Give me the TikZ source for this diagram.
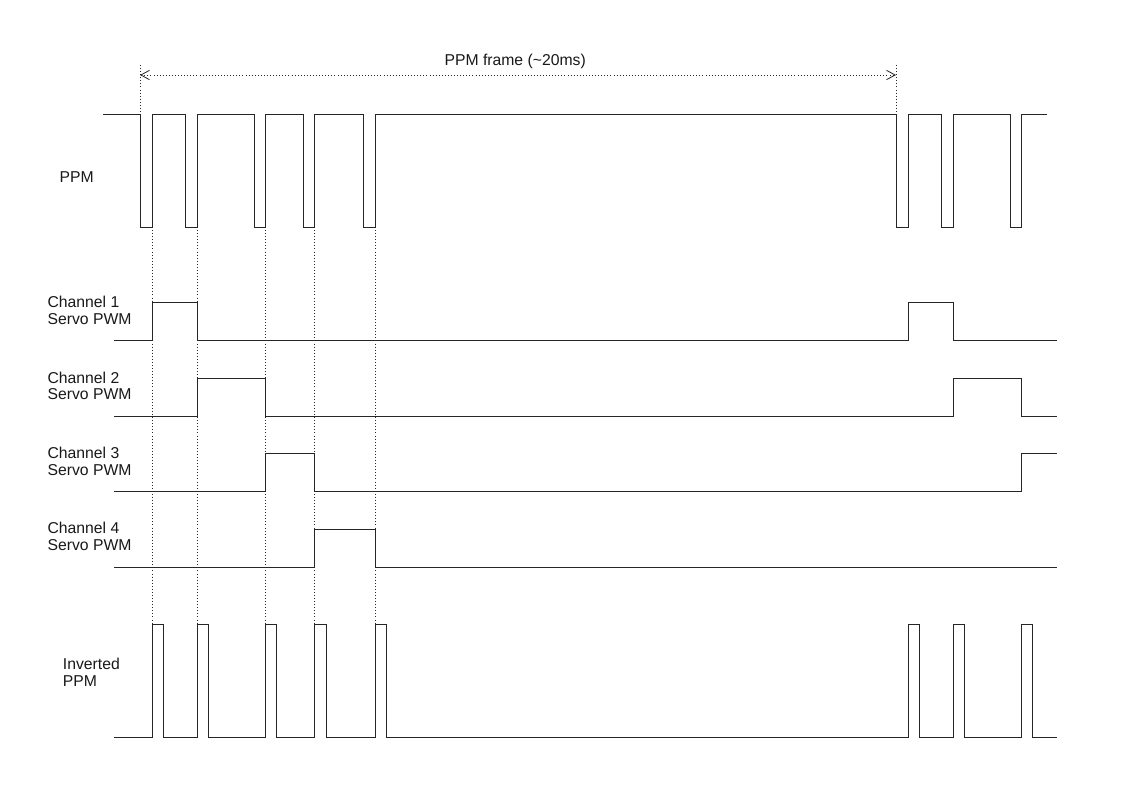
\documentclass[tikz,border=0pt]{standalone}
\usepackage{fontspec}
\setmainfont{Liberation Sans}
\usetikzlibrary{arrows.meta}
\begin{document}
\begin{tikzpicture}[x=0.75pt,y=-0.75pt,
  sig/.style={line width=0.75pt,draw=black!85,line join=miter},
  guide/.style={line width=0.7pt,draw=black!85,dash pattern=on 0.7pt off 1.6pt},
  tipb/.tip={Straight Barb[length=6.5pt,width=7pt,line width=0.6pt]},
  lbl/.style={anchor=base west,inner sep=0pt,font=\fontsize{11.8pt}{14pt}\selectfont,text=black!90}]
\useasboundingbox[fill=white] (0,0) rectangle (1123,794);

% frame marker
\coordinate (ftA) at (140,65);
\coordinate (fbA) at (140,114);
\coordinate (ftB) at (896,65);
\coordinate (fbB) at (896,114);
\coordinate (faA) at (140,75);
\coordinate (faB) at (896,75);
\draw[guide] (ftA) -- (fbA);
\draw[guide] (ftB) -- (fbB);
\draw[guide,tipb-tipb] (faA) -- (faB);
\node[lbl] (title) at (444.3,65.7) {PPM frame ({\char"7E}20ms)};

% labels
\node[lbl] (lppm) at (59.3,182.3) {PPM};
\node[lbl] (lc1a) at (47.3,307.3) {Channel 1};
\node[lbl] (lc1b) at (47.3,324.3) {Servo PWM};
\node[lbl] (lc2a) at (47.3,383) {Channel 2};
\node[lbl] (lc2b) at (47.3,399.5) {Servo PWM};
\node[lbl] (lc3a) at (47.3,458.5) {Channel 3};
\node[lbl] (lc3b) at (47.3,475) {Servo PWM};
\node[lbl] (lc4a) at (47.3,533.5) {Channel 4};
\node[lbl] (lc4b) at (47.3,550) {Servo PWM};
\node[lbl] (linva) at (62.7,669) {Inverted};
\node[lbl] (linvb) at (62.7,686.7) {PPM};

% guide lines
\foreach \x/\n in {152/a,197/b,265/c,314/d,375/e}{
  \coordinate (g\n t) at (\x,227);
  \coordinate (g\n b) at (\x,624);
  \draw[guide] (g\n t) -- (g\n b);
}

% PPM
\draw[sig] (103,114) -| (140,227) -| (152,114) -| (185,227) -| (197,114)
  -| (254,227) -| (265,114) -| (303,227) -| (314,114) -| (363,227) -| (375,114)
  -| (896,227) -| (908,114) -| (941,227) -| (953,114) -| (1010,227) -| (1021,114)
  -- (1047,114);

% Channels
\draw[sig] (114,340) -| (152,302) -| (197,340) -| (908,302) -| (953,340) -- (1057,340);
\draw[sig] (114,416) -| (197,378) -| (265,416) -| (953,378) -| (1021,416) -- (1057,416);
\draw[sig] (114,491) -| (265,453) -| (314,491) -| (1021,453) -- (1057,453);
\draw[sig] (114,567) -| (314,529) -| (375,567) -- (1057,567);

% Inverted PPM
\draw[sig] (114,737) -| (152,624) -| (163,737) -| (197,624) -| (208,737)
  -| (265,624) -| (276,737) -| (314,624) -| (326,737) -| (375,624) -| (386,737)
  -| (908,624) -| (919,737) -| (953,624) -| (964,737) -| (1021,624) -| (1032,737)
  -- (1057,737);
\end{tikzpicture}
\end{document}
